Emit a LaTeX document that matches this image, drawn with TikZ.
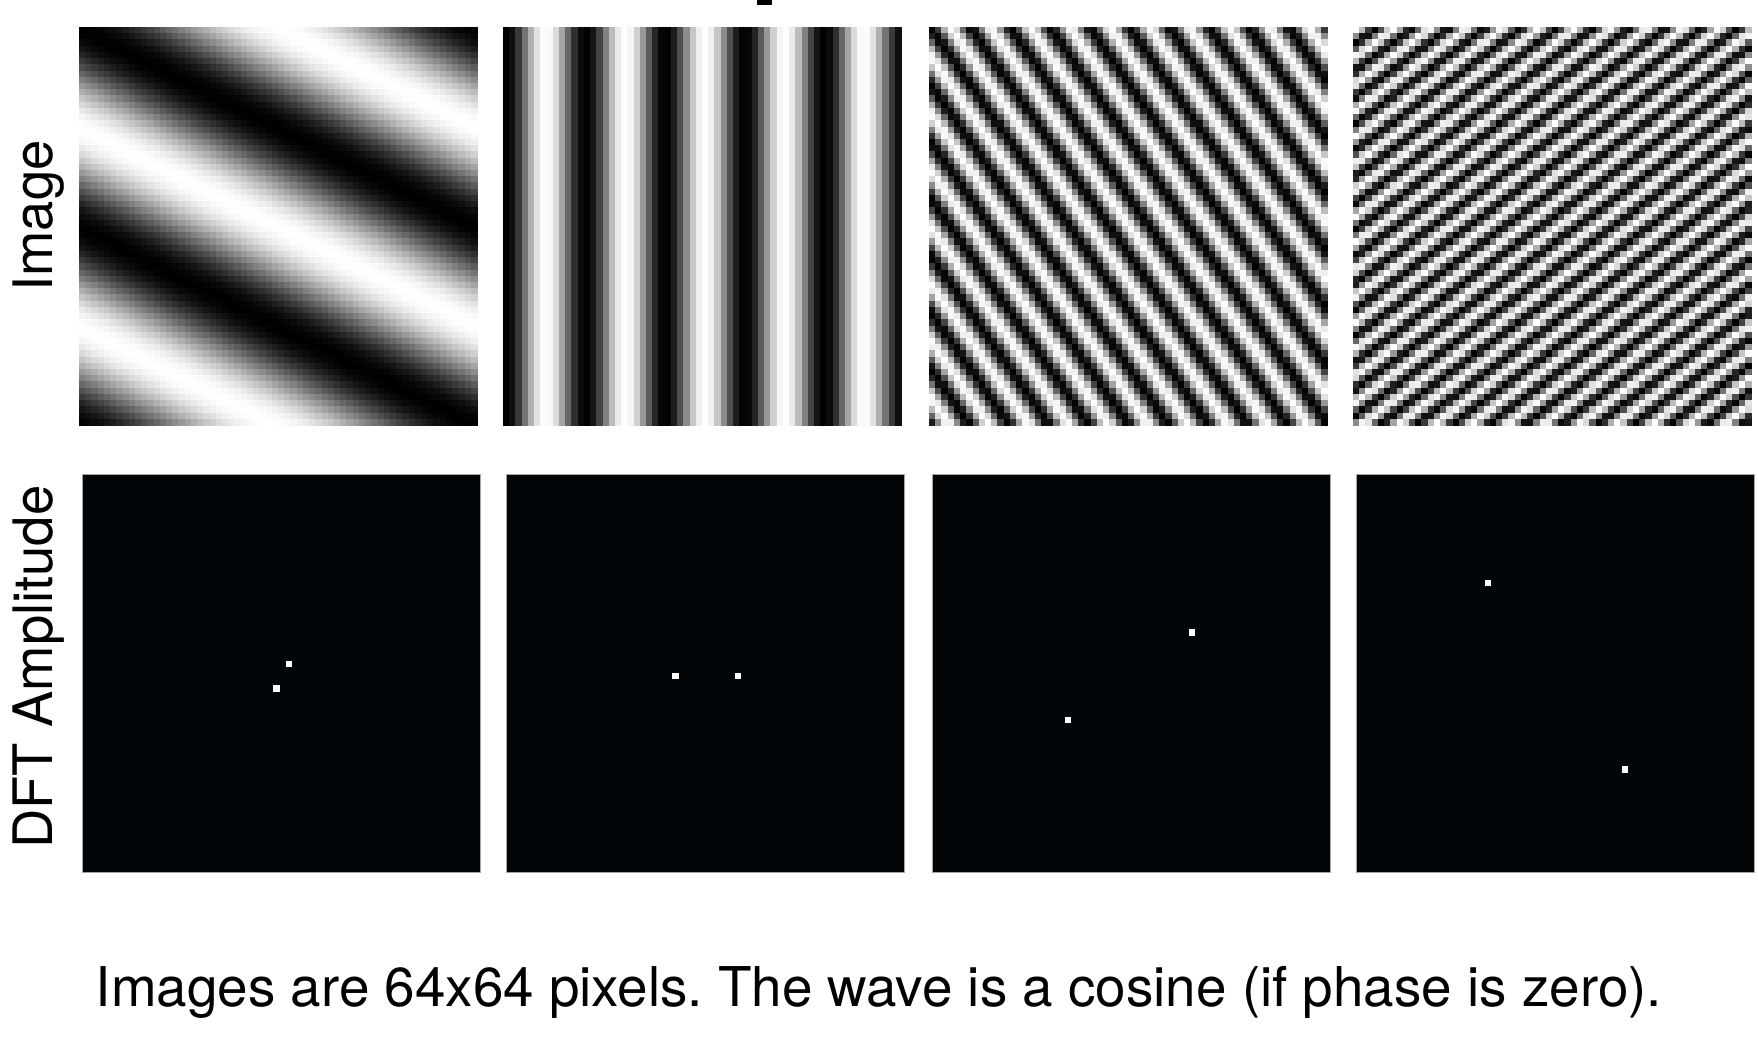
\documentclass[tikz,border=0pt]{standalone}
\usepackage{fontspec}
\setmainfont{TeX Gyre Heros}
\usetikzlibrary{calc}
\definecolor{dftbg}{RGB}{3,6,8}
\frenchspacing
\makeatletter
\newcount\grR \newcount\grC \newcount\grK \newcount\grT
\newdimen\grP \grP=3.109375pt
\newdimen\grO \grO=0.3pt
\newdimen\grW \grW=\dimexpr\grP+\grO\relax
\foreach \k in {0,...,63}{%
  \pgfmathsetmacro\g{max(0,min(1,0.5+0.5*cos(5.625*\k)))}%
  \expandafter\xdef\csname grv\k\endcsname{\g}}
\newcommand\gratingimg[2]{%
  \vbox{\offinterlineskip
    \grR=0
    \loop
      \hbox{\grC=0
        \loop
          \grK=\numexpr(#1)*(\grC-32)+(#2)*(\grR-32)+6400\relax
          \grT=\grK \divide\grT by 64 \multiply\grT by 64
          \advance\grK by -\grT
          {\color[gray]{\csname grv\the\grK\endcsname}\vrule width\grW height\grW depth0pt}\kern-\grO
          \advance\grC by 1
        \ifnum\grC<64 \repeat}%
      \kern-\grO
      \advance\grR by 1
    \ifnum\grR<64 \repeat}}
\makeatother
\begin{document}
\begin{tikzpicture}[x=0.5pt,y=-0.5pt,
  lbl/.style={font=\fontsize{27.2}{32}\selectfont, inner sep=0},
  caplbl/.style={font=\fontsize{27.4}{32}\selectfont, inner sep=0},
  imgbox/.style={inner sep=0, outer sep=0, anchor=north west},
  dftbox/.style={inner sep=0, outer sep=0, anchor=north west,
    minimum width=199pt, minimum height=199pt, fill=dftbg,
    draw=gray!70, line width=0.4pt},
  dftdot/.style={fill=white}]
\useasboundingbox (0,0) rectangle (1758,1046);
% cut-off title fragment
\fill[black] (757,0) rectangle (772,5.3);
% top row: images
\node[imgbox] (i1) at (79,27)   {\gratingimg{1}{-2}};
\node[imgbox] (i2) at (503,27)  {\gratingimg{5}{0}};
\node[imgbox] (i3) at (929,27)  {\gratingimg{10}{-7}};
\node[imgbox] (i4) at (1353,27) {\gratingimg{11}{15}};
% bottom row: DFT amplitude
\node[dftbox] (d1) at (82,474)   {};
\node[dftbox] (d2) at (506,474)  {};
\node[dftbox] (d3) at (932,474)  {};
\node[dftbox] (d4) at (1356,474) {};
\foreach \p/\c/\r in {d1/33/30, d1/31/34, d2/27/32, d2/37/32,
                      d3/41.6/25, d3/21.6/39, d4/21/17, d4/43/47}{
  \fill[dftdot] ([shift={(\c*6.21875-1.5,\r*6.21875)}]\p.north west)
    rectangle ++(6.22,6.22);
}
% labels
\node[lbl, rotate=90, anchor=base] (limg) at (52.5,216) {Image};
\node[lbl, rotate=90, anchor=base] (ldft) at (52.5,667) {DFT Amplitude};
\node[caplbl, anchor=base] (cap) at (879,1006)
  {Images are 64x64 pixels. The wave is a cosine (if phase is zero).};
\end{tikzpicture}
\end{document}
